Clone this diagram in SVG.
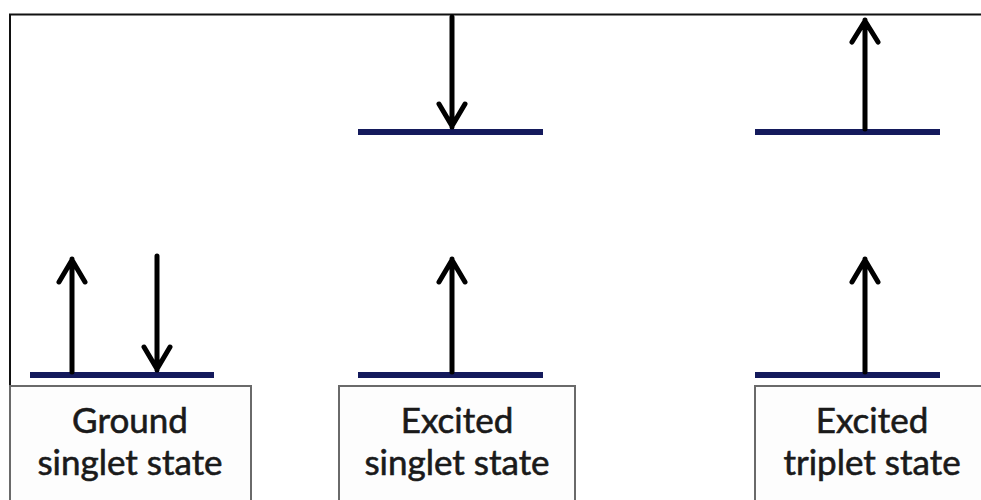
<svg xmlns="http://www.w3.org/2000/svg" width="981" height="500" viewBox="0 0 981 500">
<style>
.frame{fill:none;stroke:#111;stroke-width:2}
.box{fill:#fdfdfd;stroke:#6a6a6a;stroke-width:2}
.level{stroke:#141a5c;stroke-width:6}
.arrow{stroke:#000;stroke-width:5;fill:none;stroke-linecap:round;stroke-linejoin:round}
.lbl{font-family:Lato,"Liberation Sans",sans-serif;font-size:35px;fill:#1a1a1a;text-anchor:middle;stroke:#1a1a1a;stroke-width:0.6}
</style>
<rect width="981" height="500" fill="#fff"/>
<path class="frame" d="M10,386 V14.5 H981"/>
<g id="ground">
<rect class="box" x="10" y="386" width="241" height="130"/>
<text class="lbl" x="130" y="433">Ground</text>
<text class="lbl" x="130" y="475">singlet state</text>
<line class="level" x1="30" y1="375" x2="214" y2="375"/>
</g>
<g id="excited-singlet">
<rect class="box" x="339" y="386" width="236" height="130"/>
<text class="lbl" x="457" y="433">Excited</text>
<text class="lbl" x="457" y="475">singlet state</text>
<line class="level" x1="358" y1="132" x2="543" y2="132"/>
<line class="level" x1="358" y1="375" x2="543" y2="375"/>
</g>
<g id="excited-triplet">
<rect class="box" x="755" y="386" width="240" height="130"/>
<text class="lbl" x="872" y="433">Excited</text>
<text class="lbl" x="872" y="475">triplet state</text>
<line class="level" x1="755" y1="132" x2="940" y2="132"/>
<line class="level" x1="755" y1="375" x2="940" y2="375"/>
</g>
<g id="connectors">
<path class="arrow" d="M72,372 V259 M59,282 L72,260 L85,282"/>
<path class="arrow" d="M157,256 V370 M144,347 L157,369 L170,347"/>
<path class="arrow" d="M452,17 V127 M439,104 L452,126 L465,104"/>
<path class="arrow" d="M452,372 V259 M439,282 L452,260 L465,282"/>
<path class="arrow" d="M865,129 V20 M852,42 L865,21 L878,42"/>
<path class="arrow" d="M865,372 V259 M852,282 L865,260 L878,282"/>
</g>
</svg>
